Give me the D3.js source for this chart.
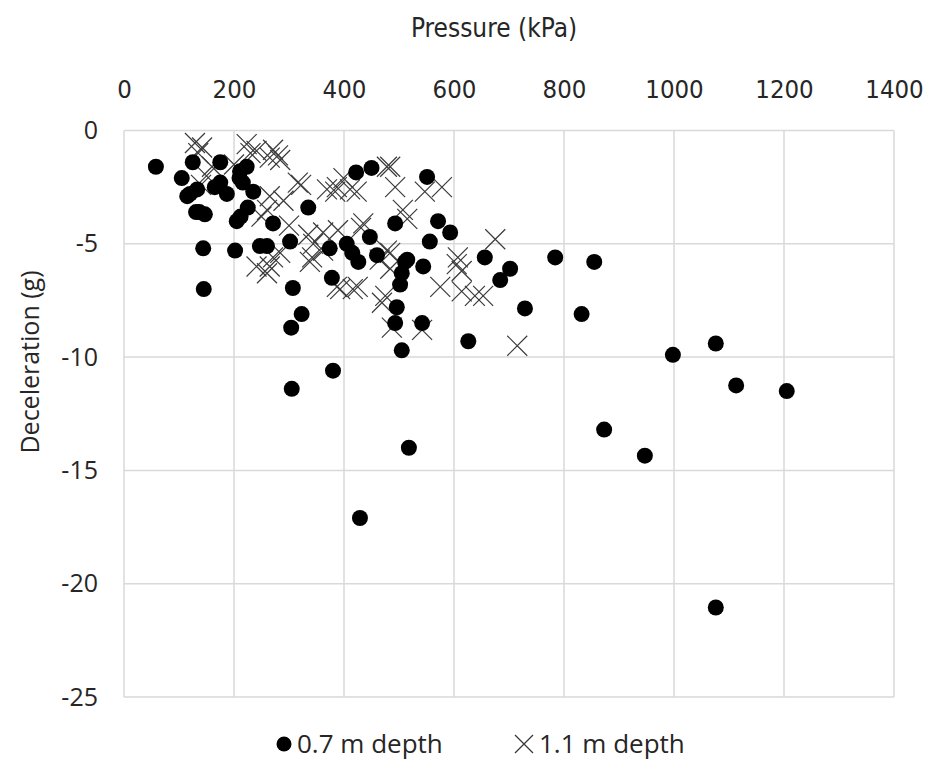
<!DOCTYPE html>
<html>
<head>
<meta charset="utf-8">
<script src="https://cdn.jsdelivr.net/npm/d3@7"></script>
<style>
  body { margin: 0; background: #fff; }
  svg { display: block; }
</style>
</head>
<body>
<div id="chart"></div>
<script>
// Pressure (kPa) vs deceleration (g), two sensor depths
const xTicks = [0, 200, 400, 600, 800, 1000, 1200, 1400];
const yTicks = [0, -5, -10, -15, -20, -25];

const depth07 = [
  [58, -1.6], [105, -2.1], [115, -2.9], [120, -2.8], [125, -1.4], [133, -2.6],
  [131, -3.6], [137, -3.6], [147, -3.7], [144, -5.2], [145, -7.0], [165, -2.5],
  [175, -1.4], [175, -2.3], [187, -2.8], [211, -1.8], [223, -1.6], [216, -2.3],
  [235, -2.7], [225, -3.4], [205, -4.0], [202, -5.3], [247, -5.1], [260, -5.1],
  [271, -4.1], [302, -4.9], [335, -3.4], [307, -6.95], [304, -8.7], [323, -8.1],
  [305, -11.4], [380, -10.6], [378, -6.5], [374, -5.2], [405, -5.0], [422, -1.85],
  [450, -1.65], [426, -5.8], [447, -4.7], [460, -5.5], [493, -4.1], [511, -5.8],
  [515, -5.7], [505, -6.3], [502, -6.8], [496, -7.8], [493, -8.5], [505, -9.7],
  [542, -8.5], [544, -6.0], [551, -2.05], [556, -4.9], [571, -4.0], [593, -4.5],
  [626, -9.3], [656, -5.6], [684, -6.6], [702, -6.1], [729, -7.85], [784, -5.6],
  [832, -8.1], [855, -5.8], [873, -13.2], [947, -14.35], [998, -9.9], [1076, -9.4],
  [1113, -11.25], [1205, -11.5], [1076, -21.05], [518, -14.0], [429, -17.1],
  [212, -3.8], [210, -2.1], [415, -5.4]
];

const depth11 = [
  [129, -0.55], [142, -0.75], [135, -1.0], [150, -2.0], [223, -0.6], [241, -0.9],
  [230, -1.0], [271, -0.85], [280, -1.1], [284, -1.3], [265, -1.2], [316, -2.3],
  [322, -2.4], [265, -2.9], [260, -3.5], [250, -3.8], [241, -6.0], [260, -6.3],
  [265, -6.0], [271, -5.6], [284, -5.4], [335, -4.6], [344, -5.0], [362, -5.3],
  [342, -5.6], [338, -5.8], [362, -4.5], [369, -2.6], [387, -2.5], [384, -2.7],
  [399, -2.1], [411, -2.6], [423, -2.7], [435, -4.1], [431, -4.3], [389, -4.4],
  [478, -1.6], [484, -1.6], [493, -2.5], [547, -2.7], [578, -2.5], [507, -3.5],
  [515, -3.9], [465, -5.7], [484, -5.4], [478, -5.3], [484, -6.1], [393, -7.0],
  [387, -6.9], [416, -7.0], [425, -6.9], [475, -7.3], [469, -7.6], [487, -8.7],
  [542, -8.8], [575, -6.9], [605, -5.9], [614, -6.2], [614, -7.1], [638, -7.3],
  [653, -7.3], [675, -4.8], [715, -9.5], [607, -5.6], [300, -4.2], [290, -3.1],
  [200, -1.5], [160, -1.6], [140, -2.4]
];

const width = 931;
const height = 760;

const svg = d3
  .select("#chart")
  .append("svg")
  .attr("width", width)
  .attr("height", height);

const x = d3.scaleLinear().domain([0, 1400]).range([124, 894]);
const y = d3.scaleLinear().domain([0, -25]).range([130.5, 697]);

const gridColor = "#d9d9d9";
const narrowFont = "'Liberation Sans Narrow', 'DejaVu Sans Condensed', sans-serif";
const mainFont = "'Open Sans', 'DejaVu Sans', sans-serif";

// gridlines
svg
  .append("g")
  .selectAll("line")
  .data(xTicks)
  .join("line")
  .attr("x1", (d) => x(d))
  .attr("x2", (d) => x(d))
  .attr("y1", y(0))
  .attr("y2", y(-25))
  .attr("stroke", gridColor)
  .attr("stroke-width", 1.5);

svg
  .append("g")
  .selectAll("line")
  .data(yTicks)
  .join("line")
  .attr("x1", x(0))
  .attr("x2", x(1400))
  .attr("y1", (d) => y(d))
  .attr("y2", (d) => y(d))
  .attr("stroke", gridColor)
  .attr("stroke-width", 1.5);

// x axis labels on top
const xAxis = d3
  .axisTop(x)
  .tickValues(xTicks)
  .tickSize(0)
  .tickPadding(0)
  .tickFormat(d3.format("d"));
const gx = svg.append("g").attr("transform", "translate(0,98)").call(xAxis);
gx.select(".domain").remove();
gx.selectAll("text")
  .attr("font-family", narrowFont)
  .attr("font-size", 25.5)
  .attr("fill", "#262626");

const yAxis = d3
  .axisLeft(y)
  .tickValues(yTicks)
  .tickSize(0)
  .tickPadding(0)
  .tickFormat(d3.format("d"));
const gy = svg.append("g").attr("transform", "translate(98,0)").call(yAxis);
gy.select(".domain").remove();
gy.selectAll("text")
  .attr("font-family", mainFont)
  .attr("font-size", 25)
  .attr("fill", "#262626")
  .text((d) => (d < 0 ? "-" + Math.abs(d) : d));

// titles
svg
  .append("text")
  .attr("x", 494)
  .attr("y", 37)
  .attr("text-anchor", "middle")
  .attr("font-family", narrowFont)
  .attr("font-size", 26)
  .attr("fill", "#262626")
  .text("Pressure (kPa)");

svg
  .append("text")
  .attr("transform", "translate(39,362) rotate(-90)")
  .attr("text-anchor", "middle")
  .attr("font-family", mainFont)
  .attr("font-size", 25)
  .attr("fill", "#262626")
  .text("Deceleration (g)");

// markers
const crossPath = (s) => `M${-s},${-s}L${s},${s}M${-s},${s}L${s},${-s}`;

svg
  .append("g")
  .selectAll("path")
  .data(depth11)
  .join("path")
  .attr("transform", (d) => `translate(${x(d[0])},${y(d[1])})`)
  .attr("d", crossPath(10))
  .attr("stroke", "#3a3a3a")
  .attr("stroke-width", 1.2)
  .attr("fill", "none");

svg
  .append("g")
  .selectAll("circle")
  .data(depth07)
  .join("circle")
  .attr("cx", (d) => x(d[0]))
  .attr("cy", (d) => y(d[1]))
  .attr("r", 8)
  .attr("fill", "#000");

// legend
const legend = svg.append("g").attr("font-family", mainFont).attr("font-size", 26);
legend.append("circle").attr("cx", 284).attr("cy", 744).attr("r", 7.5).attr("fill", "#000");
legend
  .append("text")
  .attr("x", 297)
  .attr("y", 753)
  .attr("fill", "#262626")
  .text("0.7 m depth");
legend
  .append("path")
  .attr("transform", "translate(524,744)")
  .attr("d", crossPath(9))
  .attr("stroke", "#3a3a3a")
  .attr("stroke-width", 1.3);
legend
  .append("text")
  .attr("x", 539)
  .attr("y", 753)
  .attr("fill", "#262626")
  .text("1.1 m depth");
</script>
</body>
</html>
